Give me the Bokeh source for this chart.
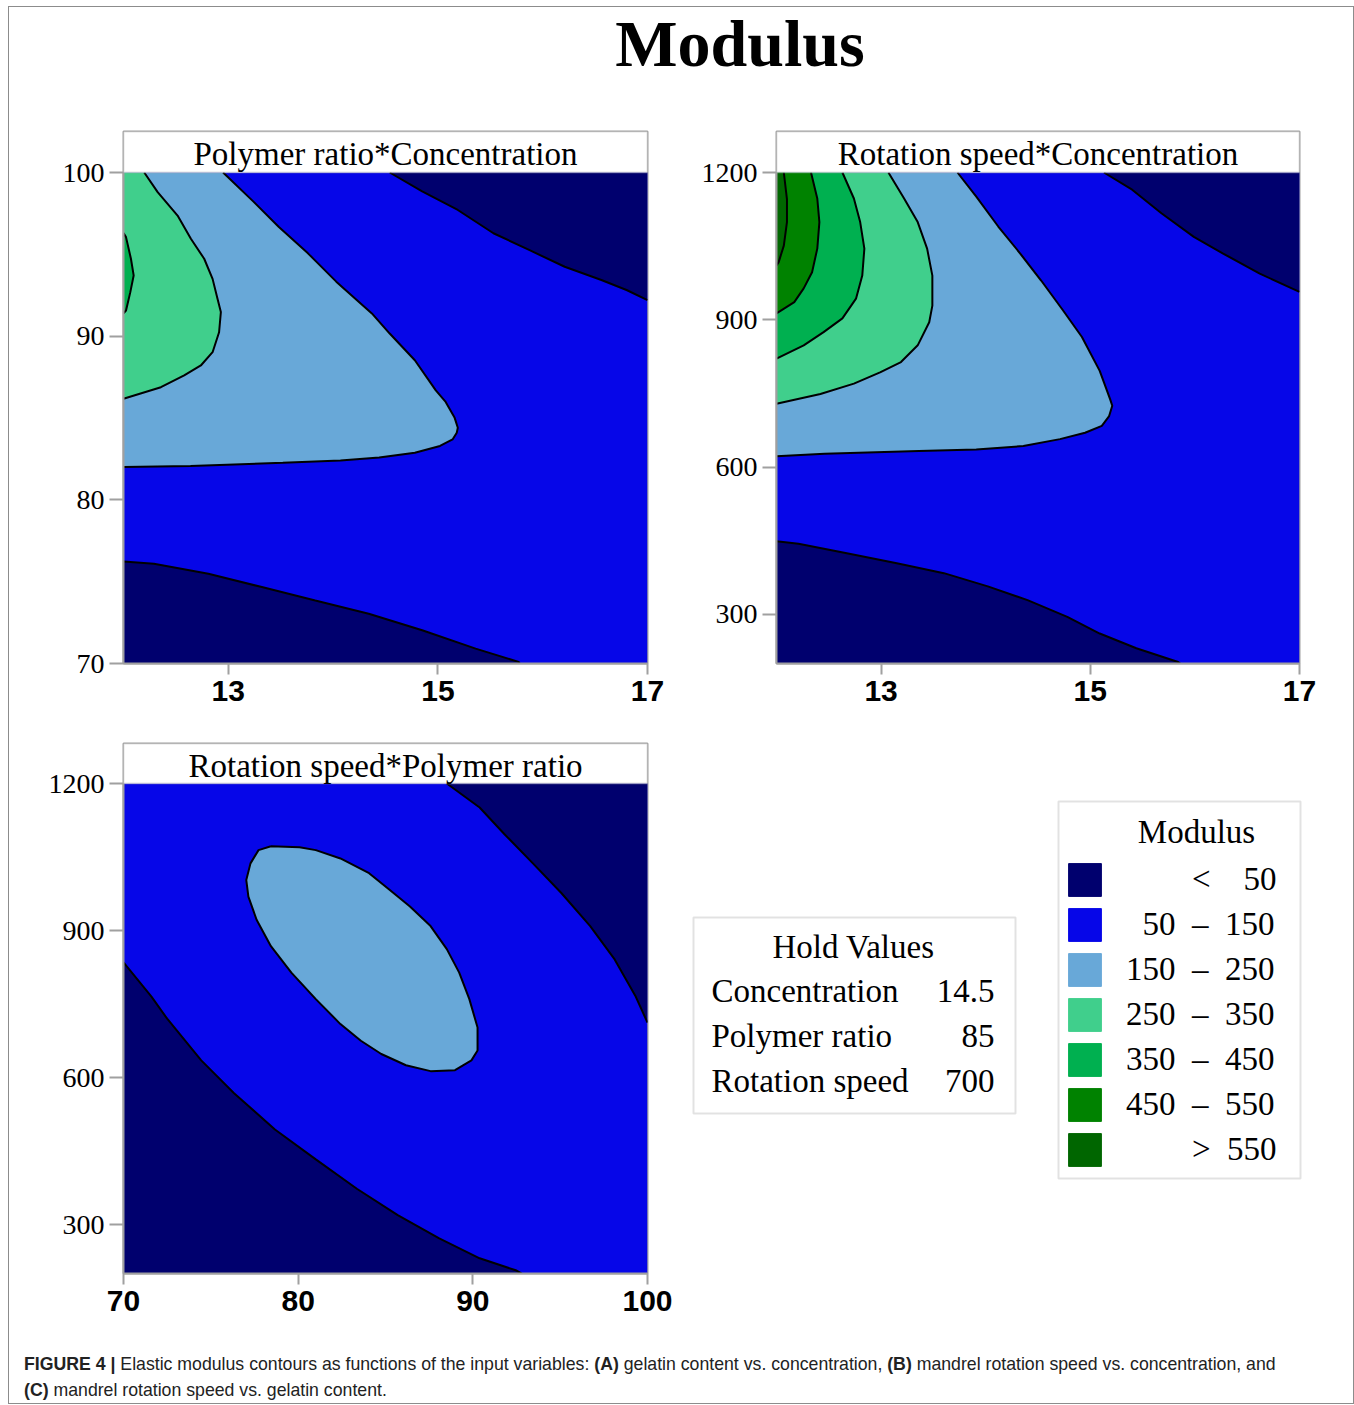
from bokeh.plotting import figure
from bokeh.models import Range1d, FixedTicker, BoxAnnotation, Label, Legend, LegendItem, Div
from bokeh.layouts import column, row
from bokeh.embed import file_html
from bokeh.resources import INLINE

# ---------------- data ----------------
LEVEL_BREAKS = [50, 150, 250, 350, 450, 550]
LEVEL_COLORS = ["#00006E", "#0606E8", "#68A8D8", "#40CF8C", "#00B050", "#008200", "#006600"]

HOLD_NAMES = ["Concentration", "Polymer ratio", "Rotation speed"]
HOLD_VALUES = ["14.5", "85", "700"]

# Panel A: Polymer ratio (y) * Concentration (x)
a_xlim = [12, 17]
a_ylim = [70, 100]
a_xticks = [13, 15, 17]
a_yticks = [70, 80, 90, 100]
a_lt50_top_x = [14.54, 14.85, 15.19, 15.53, 15.87, 16.21, 16.56, 16.80, 17.0]
a_lt50_top_y = [100, 98.84, 97.71, 96.29, 95.27, 94.24, 93.43, 92.82, 92.2]
a_lt50_bot_x = [12.0, 12.29, 12.81, 13.32, 13.83, 14.34, 14.85, 15.36, 15.77, 15.78]
a_lt50_bot_y = [76.23, 76.09, 75.48, 74.67, 73.85, 73.04, 72.03, 70.91, 70.1, 70.0]
a_150_x = [12.95, 13.24, 13.48, 13.76, 14.03, 14.37, 14.54, 14.78, 14.98, 15.07, 15.16, 15.19,
           15.18, 15.14, 15.02, 14.78, 14.44, 14.07, 13.52, 12.64, 12.0]
a_150_y = [100, 98.22, 96.69, 95.06, 93.33, 91.39, 90.16, 88.53, 86.69, 86.02, 85.01, 84.4,
           84.1, 83.69, 83.29, 82.88, 82.58, 82.41, 82.27, 82.07, 82.0]
a_250_x = [12.198, 12.326, 12.516, 12.643, 12.77, 12.85, 12.897, 12.929, 12.912, 12.85, 12.738,
           12.579, 12.357, 12.0]
a_250_y = [100, 98.8, 97.37, 95.95, 94.73, 93.5, 92.28, 91.47, 90.24, 89.02, 88.21, 87.6, 86.88, 86.18]
a_350_x = [12.0, 12.024, 12.071, 12.097, 12.065, 12.024, 12.0]
a_350_y = [96.3, 96.05, 94.73, 93.71, 92.69, 91.57, 91.4]

# Panel B: Rotation speed (y) * Concentration (x)
b_xlim = [12, 17]
b_ylim = [200, 1200]
b_xticks = [13, 15, 17]
b_yticks = [300, 600, 900, 1200]
b_lt50_top_x = [15.13, 15.40, 15.68, 15.99, 16.27, 16.62, 17.0]
b_lt50_top_y = [1200, 1165, 1117, 1069, 1035, 994, 957]
b_lt50_bot_x = [12.0, 12.21, 12.66, 13.15, 13.60, 14.02, 14.40, 14.78, 15.09, 15.44, 15.84, 15.86]
b_lt50_bot_y = [449, 444, 425, 404, 384, 357, 329, 295, 261, 231, 203, 200]
b_150_x = [13.73, 13.91, 14.12, 14.33, 14.53, 14.74, 14.92, 15.09, 15.19, 15.21, 15.18, 15.11,
           14.95, 14.71, 14.36, 13.91, 13.36, 12.46, 12.0]
b_150_y = [1200, 1151, 1090, 1035, 980, 919, 865, 796, 738, 725, 704, 684,
           670, 657, 643, 636, 633, 627, 622]
b_250_x = [13.07, 13.22, 13.35, 13.44, 13.49, 13.49, 13.46, 13.35, 13.19, 12.99, 12.74, 12.42, 12.0]
b_250_y = [1200, 1147, 1099, 1045, 990, 929, 895, 848, 814, 793, 770, 749, 729]
b_350_x = [12.63, 12.74, 12.80, 12.84, 12.82, 12.76, 12.63, 12.45, 12.26, 12.0]
b_350_y = [1200, 1147, 1099, 1045, 990, 943, 903, 875, 848, 821]
b_450_x = [12.33, 12.39, 12.41, 12.39, 12.34, 12.26, 12.17, 12.0]
b_450_y = [1200, 1147, 1099, 1045, 997, 964, 936, 913]
b_550_x = [12.07, 12.10, 12.10, 12.07, 12.02, 12.0]
b_550_y = [1200, 1146, 1099, 1051, 1017, 1011]

# Panel C: Rotation speed (y) * Polymer ratio (x)
c_xlim = [70, 100]
c_ylim = [200, 1200]
c_xticks = [70, 80, 90, 100]
c_yticks = [300, 600, 900, 1200]
c_lt50_top_x = [88.51, 90.39, 91.80, 93.44, 95.08, 96.72, 98.12, 99.30, 100.0]
c_lt50_top_y = [1200, 1151, 1097, 1037, 976, 909, 841, 767, 712]
c_lt50_bot_x = [70.0, 71.6, 72.5, 74.45, 76.33, 78.67, 81.01, 83.36, 85.70, 88.05, 90.39, 92.5, 92.8]
c_lt50_bot_y = [835, 765, 720, 635, 568, 494, 433, 373, 319, 272, 231, 206, 200]
c_150_x = [78.44, 80.08, 81.01, 82.42, 84.06, 85.23, 86.40, 87.58, 88.51, 89.22, 89.80, 90.27,
           90.27, 89.92, 88.98, 87.58, 86.17, 84.76, 83.59, 82.42, 81.01, 79.61, 78.44, 77.62,
           77.15, 77.03, 77.27, 77.73, 78.44]
c_150_y = [1072, 1070, 1064, 1047, 1017, 983, 949, 909, 862, 814, 760, 702,
           655, 635, 615, 613, 625, 648, 675, 709, 760, 814, 868, 922,
           969, 1003, 1037, 1064, 1072]

GRAY = "#A0A0A0"
SERIF = "Liberation Serif"
NARROW_BOLD = "'Liberation Sans Narrow', 'Liberation Sans', sans-serif"
NAN = float("nan")
BASE_SHIFT = 12  # pixel correction so that the label anchor is the text baseline


def corner(code, xl, yl):
    return ({"l": xl[0], "r": xl[1]}[code[1]], {"b": yl[0], "t": yl[1]}[code[0]])


def make_panel(width, height, bl, br, bt, bb, xl, yl, yext, xticks, yticks, header, hoff, base, regions):
    p = figure(width=width, height=height, x_range=Range1d(*xl), y_range=Range1d(yl[0], yext),
               output_backend="svg", toolbar_location=None,
               min_border_left=bl, min_border_right=br, min_border_top=bt, min_border_bottom=bb)
    p.grid.visible = False
    p.outline_line_color = GRAY
    p.outline_line_width = 2
    p.background_fill_color = "white"
    # base level
    p.quad(left=[xl[0]], right=[xl[1]], bottom=[yl[0]], top=[yl[1]],
           fill_color=LEVEL_COLORS[base], line_color=None)
    for lvl, xs, ys, corners in regions:
        cx = [corner(c, xl, yl)[0] for c in corners]
        cy = [corner(c, xl, yl)[1] for c in corners]
        p.patch(list(xs) + cx, list(ys) + cy, fill_color=LEVEL_COLORS[lvl], line_color=None)
    p.multi_line(xs=[list(r[1]) for r in regions], ys=[list(r[2]) for r in regions],
                 line_color="black", line_width=2)
    # header box
    p.add_layout(BoxAnnotation(bottom=yl[1], fill_color="white", fill_alpha=1.0,
                               line_color=GRAY, line_width=2))
    p.add_layout(Label(x=(xl[0] + xl[1]) / 2, y=yl[1], y_offset=hoff + BASE_SHIFT, text=header,
                       text_align="center", text_baseline="alphabetic",
                       text_font=SERIF, text_font_size="33px", text_color="black"))
    # axes
    p.xaxis.ticker = FixedTicker(ticks=xticks)
    p.yaxis.ticker = FixedTicker(ticks=yticks)
    p.yaxis.bounds = (yl[0], yl[1])
    for ax in (p.xaxis[0], p.yaxis[0]):
        ax.axis_line_color = GRAY
        ax.axis_line_width = 2
        ax.major_tick_line_color = GRAY
        ax.major_tick_line_width = 2
        ax.major_tick_in = 0
        ax.minor_tick_line_color = None
        ax.major_label_text_color = "black"
    p.xaxis.major_tick_out = 11
    p.xaxis.major_label_standoff = 6
    p.xaxis.major_label_text_font = NARROW_BOLD
    p.xaxis.major_label_text_font_style = "bold"
    p.xaxis.major_label_text_font_size = "30px"
    p.yaxis.major_tick_out = 14
    p.yaxis.major_label_standoff = 5
    p.yaxis.major_label_text_font = SERIF
    p.yaxis.major_label_text_font_size = "28px"
    return p


figA = make_panel(688, 610, 114, 50, 11, 67, a_xlim, a_ylim, 100 + 30 * 41 / 491,
                  a_xticks, a_yticks, "Polymer ratio*Concentration", 7, 1,
                  [(0, a_lt50_top_x, a_lt50_top_y, ["tr"]),
                   (0, a_lt50_bot_x, a_lt50_bot_y, ["bl"]),
                   (2, a_150_x, a_150_y, ["tl"]),
                   (3, a_250_x, a_250_y, ["tl"]),
                   (4, a_350_x, a_350_y, [])])

figB = make_panel(656, 610, 79, 54, 11, 67, b_xlim, b_ylim, 1200 + 1000 * 41 / 491,
                  b_xticks, b_yticks, "Rotation speed*Concentration", 7, 1,
                  [(0, b_lt50_top_x, b_lt50_top_y, ["tr"]),
                   (0, b_lt50_bot_x, b_lt50_bot_y, ["bl"]),
                   (2, b_150_x, b_150_y, ["tl"]),
                   (3, b_250_x, b_250_y, ["tl"]),
                   (4, b_350_x, b_350_y, ["tl"]),
                   (5, b_450_x, b_450_y, ["tl"]),
                   (6, b_550_x, b_550_y, ["tl"])])

figC = make_panel(671, 610, 114, 33, 13, 67, c_xlim, c_ylim, 1200 + 1000 * 40 / 490,
                  c_xticks, c_yticks, "Rotation speed*Polymer ratio", 6, 1,
                  [(0, c_lt50_top_x, c_lt50_top_y, ["tr"]),
                   (0, c_lt50_bot_x, c_lt50_bot_y, ["bl"]),
                   (2, c_150_x, c_150_y, [])])

# ---------------- title ----------------
title_div = Div(
    text='<div style="box-sizing:border-box;font-family:\'Liberation Serif\',serif;font-weight:bold;'
         'font-size:66px;line-height:66px;text-align:center;width:1344px;padding-left:118px;'
         'padding-top:4px;color:#000;">Modulus</div>',
    width=1344, height=113, margin=(0, 0, 0, 0))

# ---------------- legend / hold values ----------------
# frame of this figure is aligned with panel C (13 px top border, 67 px bottom border);
# data coordinates below are pixel offsets from the top-left of this figure's cell
leg = figure(width=673, height=610, x_range=Range1d(0, 673), y_range=Range1d(543, 13),
             x_axis_type=None, y_axis_type=None, output_backend="svg", toolbar_location=None,
             min_border_left=0, min_border_right=0, min_border_top=13, min_border_bottom=67,
             outline_line_color=None)
leg.grid.visible = False

NB = "\u00a0"
labels = [NB * 8 + "<" + NB * 4 + str(LEVEL_BREAKS[0])]
for lo, hi in zip(LEVEL_BREAKS[:-1], LEVEL_BREAKS[1:]):
    lo_s = str(lo).rjust(3).replace(" ", NB * 2)
    labels.append(lo_s + NB * 2 + "\u2013" + NB * 2 + str(hi))
labels.append(NB * 8 + ">" + NB * 2 + str(LEVEL_BREAKS[-1]))

# outer legend box + title
leg.add_layout(BoxAnnotation(left=378, right=620, top=71, bottom=448, fill_color="white",
                             fill_alpha=1.0, line_color=GRAY, line_width=2))
leg.add_layout(Label(x=516, y=113, y_offset=BASE_SHIFT, text="Modulus", text_align="center",
                     text_baseline="alphabetic", text_font=SERIF, text_font_size="33px",
                     text_color="black"))

items = []
for lab, col in zip(labels, LEVEL_COLORS):
    r = leg.quad(left=[NAN], right=[NAN], top=[NAN], bottom=[NAN], fill_color=col, line_color=col)
    items.append(LegendItem(label=lab, renderers=[r]))

legend = Legend(items=items, location=(384, 103),
                label_text_font=SERIF, label_text_font_size="33px", label_text_color="black",
                glyph_width=41, glyph_height=41, label_height=33, label_standoff=21,
                spacing=4, padding=0, margin=0,
                border_line_color=None, background_fill_alpha=0.0)
leg.add_layout(legend)

leg.add_layout(BoxAnnotation(left=13, right=335, top=187, bottom=383, fill_color="white",
                             fill_alpha=1.0, line_color=GRAY, line_width=2))
leg.add_layout(Label(x=173, y=228, y_offset=BASE_SHIFT, text="Hold Values", text_align="center",
                     text_baseline="alphabetic", text_font=SERIF, text_font_size="33px",
                     text_color="black"))
for i, (nm, vl) in enumerate(zip(HOLD_NAMES, HOLD_VALUES)):
    yb = 272 + 45 * i
    leg.add_layout(Label(x=31, y=yb, y_offset=BASE_SHIFT, text=nm, text_align="left",
                         text_baseline="alphabetic", text_font=SERIF, text_font_size="33px",
                         text_color="black"))
    leg.add_layout(Label(x=314, y=yb, y_offset=BASE_SHIFT, text=vl, text_align="right",
                         text_baseline="alphabetic", text_font=SERIF, text_font_size="33px",
                         text_color="black"))

# ---------------- caption ----------------
caption_html = (
    '<div style="font-family:\'Liberation Sans\',sans-serif;white-space:nowrap;'
    'font-size:17.7px;line-height:26px;color:#222;padding-left:15px;padding-top:11px;">'
    '<b>FIGURE 4 |</b> Elastic modulus contours as functions of the input variables: '
    '<b>(A)</b> gelatin content vs. concentration, <b>(B)</b> mandrel rotation speed vs. '
    'concentration, and<br><b>(C)</b> mandrel rotation speed vs. gelatin content.</div>'
)
caption = Div(text=caption_html, width=1344, height=63, margin=(0, 0, 0, 0))

root = column(title_div, row(figA, figB), row(figC, leg), caption,
              styles={"border": "1px solid #8C8C8C", "margin-left": "8px", "margin-top": "6px"})

open("out.html", "w").write(file_html(root, INLINE))
